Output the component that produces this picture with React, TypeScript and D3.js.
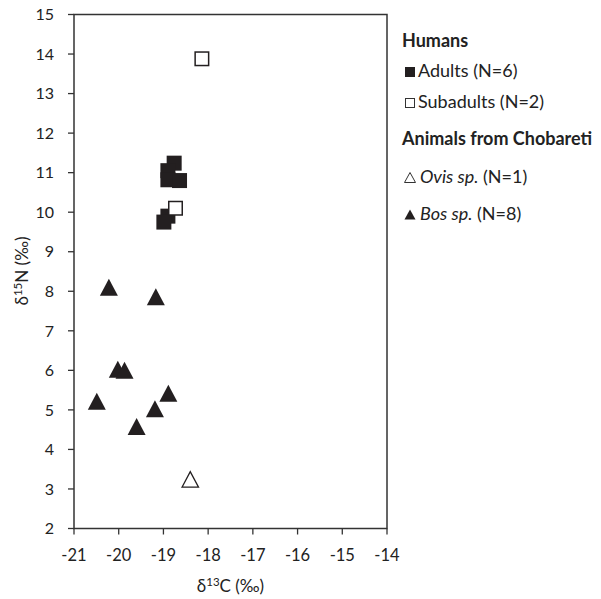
import React from "react";
import * as d3 from "d3";

const adultsX = [-18.76, -18.9, -18.9, -18.64, -18.9, -18.99];
const adultsY = [11.24, 11.05, 10.82, 10.8, 9.9, 9.75];
const subadultsX = [-18.14, -18.73];
const subadultsY = [13.88, 10.1];
const ovisX = [-18.4];
const ovisY = [3.24];
const bosX = [-20.22, -19.17, -20.02, -19.87, -20.49, -18.89, -19.19, -19.6];
const bosY = [8.1, 7.86, 6.03, 6.0, 5.22, 5.42, 5.03, 4.58];
const xTicks = [-21, -20, -19, -18, -17, -16, -15, -14];
const yTicks = [2, 3, 4, 5, 6, 7, 8, 9, 10, 11, 12, 13, 14, 15];

const W = 601;
const H = 599;
const FONT = "Lato, 'Open Sans', sans-serif";
const INK = "#231f20";

export default function App() {
  const x = d3.scaleLinear().domain([-21, -14]).range([74, 387]);
  const y = d3.scaleLinear().domain([2, 15]).range([528.5, 14.5]);
  const sq = 15;
  const triW = 18;
  const triH = 17;
  const tri = (cx: number, cy: number, w = triW, h = triH) =>
    `M${cx - w / 2},${cy + h / 2}L${cx},${cy - h / 2}L${cx + w / 2},${cy + h / 2}Z`;

  const lx = 402;
  return (
    <svg
      width={W}
      height={H}
      style={{ position: "absolute", left: 0, top: 0, background: "#fff" }}
      fontFamily={FONT}
    >
      <rect x={0} y={0} width={W} height={H} fill="#fff" />
      {/* frame */}
      <rect
        x={x(-21)}
        y={y(15)}
        width={x(-14) - x(-21)}
        height={y(2) - y(15)}
        fill="none"
        stroke="#333"
        strokeWidth={1.5}
      />
      {/* y ticks */}
      {yTicks.map((t) => (
        <g key={"y" + t}>
          <line x1={x(-21) - 6} x2={x(-21)} y1={y(t)} y2={y(t)} stroke="#333" strokeWidth={1.3} />
          <text x={54} y={y(t)} dy="0.36em" textAnchor="end" fontSize={16} fill="#222">
            {t}
          </text>
        </g>
      ))}
      {/* x ticks */}
      {xTicks.map((t) => (
        <g key={"x" + t}>
          <line x1={x(t)} x2={x(t)} y1={y(2)} y2={y(2) + 6} stroke="#333" strokeWidth={1.3} />
          <text x={x(t)} y={561} textAnchor="middle" fontSize={16.5} fill="#222">
            {t}
          </text>
        </g>
      ))}
      {/* axis titles */}
      <text x={230.5} y={592} textAnchor="middle" fontSize={17} fill="#222">
        δ<tspan fontSize={11.5} dy={-6}>13</tspan>
        <tspan dy={6}>C (‰)</tspan>
      </text>
      <text
        transform={`translate(28,271) rotate(-90)`}
        textAnchor="middle"
        fontSize={17}
        fill="#222"
      >
        δ<tspan fontSize={11.5} dy={-6}>15</tspan>
        <tspan dy={6}>N (‰)</tspan>
      </text>

      {/* marks */}
      {bosX.map((v, i) => (
        <path key={"b" + i} d={tri(x(v), y(bosY[i]))} fill={INK} />
      ))}
      {ovisX.map((v, i) => (
        <path
          key={"o" + i}
          d={tri(x(v), y(ovisY[i]), triW - 1.5, triH - 1.5)}
          fill="#fff"
          stroke={INK}
          strokeWidth={1.3}
        />
      ))}
      {adultsX.map((v, i) => (
        <rect
          key={"a" + i}
          x={x(v) - sq / 2}
          y={y(adultsY[i]) - sq / 2}
          width={sq}
          height={sq}
          fill={INK}
        />
      ))}
      {subadultsX.map((v, i) => (
        <rect
          key={"s" + i}
          x={x(v) - (sq - 1.5) / 2}
          y={y(subadultsY[i]) - (sq - 1.5) / 2}
          width={sq - 1.5}
          height={sq - 1.5}
          fill="#fff"
          stroke={INK}
          strokeWidth={1.5}
        />
      ))}

      {/* legend */}
      <g fill="#222" fontSize={18}>
        <text x={lx} y={47} fontWeight="bold">Humans</text>
        <rect x={405} y={67} width={10} height={10} fill={INK} />
        <text x={418} y={77}>Adults (N=6)</text>
        <rect x={405.5} y={98.5} width={9} height={9} fill="#fff" stroke="#333" strokeWidth={1} />
        <text x={418} y={108}>Subadults (N=2)</text>
        <text x={lx} y={145} fontWeight="bold">Animals from Chobareti</text>
        <path d={tri(410, 177.5, 11, 10)} fill="#fff" stroke="#333" strokeWidth={1} />
        <text x={420} y={183}>
          <tspan fontStyle="italic">Ovis sp.</tspan> (N=1)
        </text>
        <path d={tri(410, 214.5, 11, 10)} fill={INK} />
        <text x={420} y={220}>
          <tspan fontStyle="italic">Bos sp.</tspan> (N=8)
        </text>
      </g>
    </svg>
  );
}
